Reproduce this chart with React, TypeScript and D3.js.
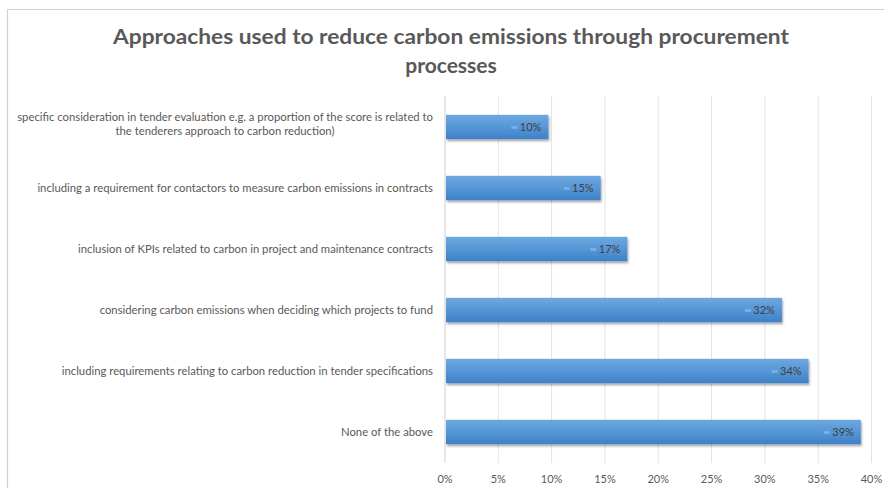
import React from "react";
import * as d3 from "d3";

const categories = [
  "specific consideration in tender evaluation e.g. a proportion of the score is related to|the tenderers approach to carbon reduction)",
  "including a requirement for contactors to measure carbon emissions in contracts",
  "inclusion of KPIs related to carbon in project and maintenance contracts",
  "considering carbon emissions when deciding which projects to fund",
  "including requirements relating to carbon reduction in tender specifications",
  "None of the above",
];
const values = [0.097, 0.146, 0.171, 0.316, 0.341, 0.39];
const xTicks = [0, 0.05, 0.1, 0.15, 0.2, 0.25, 0.3, 0.35, 0.4];
const titleLines = [
  "Approaches used to reduce carbon emissions through procurement",
  "processes",
];

const W = 884;
const H = 488;
const FONT = "Lato, 'Open Sans', sans-serif";
const GREY = "#595959";

export default function App() {
  const x = d3.scaleLinear().domain([0, 0.4]).range([445, 871.5]);
  const y = d3
    .scaleBand<number>()
    .domain(d3.range(categories.length))
    .range([96.5, 462.5])
    .paddingInner(0.6)
    .paddingOuter(0.3);
  const pct = d3.format(".0%");
  const labelSize = 11.3;

  return (
    <svg
      width={W}
      height={H}
      style={{ position: "absolute", left: 0, top: 0, background: "#fff" }}
    >
      <defs>
        <linearGradient id="barGrad" x1="0" y1="0" x2="0" y2="1">
          <stop offset="0" stopColor="#6ea8e0" />
          <stop offset="0.5" stopColor="#5596d6" />
          <stop offset="1" stopColor="#3e80c6" />
        </linearGradient>
        <filter id="shadow" x="-5%" y="-20%" width="110%" height="160%">
          <feDropShadow dx="1" dy="2" stdDeviation="1.2" floodColor="#000" floodOpacity="0.35" />
        </filter>
      </defs>
      {/* chart border */}
      <line x1={7.5} x2={W} y1={9.5} y2={9.5} stroke="#d0d0d0" strokeWidth={1.2} />
      <line x1={7.5} x2={7.5} y1={9.5} y2={H} stroke="#d0d0d0" strokeWidth={1.2} />

      {/* title */}
      {titleLines.map((t, i) => (
        <text
          key={i}
          x={451}
          y={44 + i * 29}
          textAnchor="middle"
          fontFamily={FONT}
          fontWeight="bold"
          fontSize={21}
          fill={GREY}
          textLength={i === 0 ? 676 : undefined}
          lengthAdjust="spacingAndGlyphs"
        >
          {t}
        </text>
      ))}

      {/* gridlines */}
      {xTicks.map((t) => (
        <line
          key={t}
          x1={x(t)}
          x2={x(t)}
          y1={96}
          y2={463}
          stroke={t === 0 ? "#cfcfcf" : "#e2e2e2"}
          strokeWidth={1}
        />
      ))}
      {xTicks.map((t) => (
        <text
          key={"l" + t}
          x={x(t)}
          y={483}
          textAnchor="middle"
          fontFamily={FONT}
          fontSize={11}
          fill={GREY}
        >
          {pct(t)}
        </text>
      ))}

      {/* bars */}
      {values.map((v, i) => {
        const yb = y(i)!;
        const bh = y.bandwidth();
        const xe = x(v);
        const lab = pct(v);
        return (
          <g key={i}>
            <rect
              x={x(0) + 1}
              y={yb}
              width={xe - x(0) - 1}
              height={bh}
              fill="url(#barGrad)"
              filter="url(#shadow)"
            />
            <text
              x={xe - 7}
              y={yb + bh / 2 + 3.8}
              textAnchor="end"
              fontFamily={FONT}
              fontSize={11}
              fill="#404040"
            >
              {lab}
            </text>
            <line
              x1={xe - 37}
              x2={xe - 31}
              y1={yb + bh / 2 + 0.5}
              y2={yb + bh / 2 + 0.5}
              stroke="#82b2e2"
              strokeWidth={2.5}
            />
          </g>
        );
      })}

      {/* category labels */}
      {categories.map((c, i) => {
        const lines = c.split("|");
        const cy = y(i)! + y.bandwidth() / 2;
        const lh = 14.5;
        const startY = cy - ((lines.length - 1) * lh) / 2 + 4;
        return (
          <g key={i}>
            {lines.map((l, j) => (
              <text
                key={j}
                x={lines.length === 1 || j === 0 ? 433 : 225}
                y={startY + j * lh - (lines.length > 1 ? 3 : 0)}
                textAnchor={lines.length === 1 || j === 0 ? "end" : "middle"}
                fontFamily={FONT}
                fontSize={labelSize}
                fill={GREY}
              >
                {l}
              </text>
            ))}
          </g>
        );
      })}
    </svg>
  );
}
